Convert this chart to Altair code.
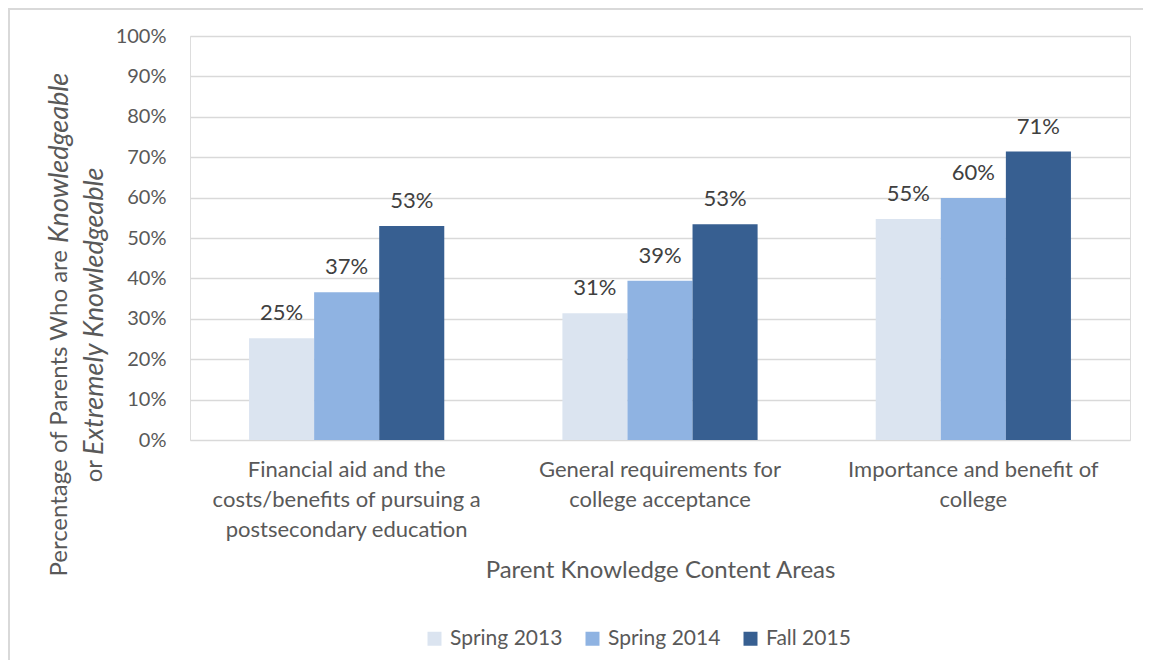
import altair as alt
import pandas as pd

categories = [
    "Financial aid and the|costs/benefits of pursuing a|postsecondary education",
    "General requirements for|college acceptance",
    "Importance and benefit of|college",
]
series = ["Spring 2013", "Spring 2014", "Fall 2015"]
values = {
    "Spring 2013": [0.252, 0.314, 0.547],
    "Spring 2014": [0.366, 0.394, 0.599],
    "Fall 2015": [0.530, 0.534, 0.714],
}
colors = ["#dbe4f0", "#8fb3e2", "#375f91"]

rows = []
for s in series:
    for c, v in zip(categories, values[s]):
        rows.append({"cat": c, "series": s, "value": v})
df = pd.DataFrame(rows)

W, H = 940, 404
FONT = "Lato"

x_enc = alt.X(
    "cat:N",
    sort=categories,
    scale=alt.Scale(paddingInner=0.377, paddingOuter=0.1885),
    axis=alt.Axis(
        title="Parent Knowledge Content Areas",
        labelExpr="split(datum.label, '|')",
        labelAngle=0,
        labelFontSize=22,
        labelLineHeight=30,
        labelPadding=19,
        labelLimit=0,
        labelColor="#595959",
        labelFont=FONT,
        titleFont=FONT,
        titleFontSize=24,
        titleFontWeight="normal",
        titleColor="#595959",
        titlePadding=18,
        ticks=False,
        domain=False,
        grid=False,
    ),
)
xo = alt.XOffset("series:N", sort=series)
y_enc = alt.Y(
    "value:Q",
    scale=alt.Scale(domain=[0, 1]),
    axis=alt.Axis(
        title=None,
        format=".0%",
        values=[i / 10 for i in range(11)],
        labelFontSize=20,
        labelColor="#595959",
        labelFont=FONT,
        labelPadding=24,
        ticks=False,
        domain=False,
        gridColor="#d9d9d9",
        gridWidth=1.5,
    ),
)

bars = alt.Chart(df).mark_bar().encode(
    x=x_enc,
    xOffset=xo,
    y=y_enc,
    color=alt.Color(
        "series:N",
        sort=series,
        scale=alt.Scale(domain=series, range=colors),
        legend=alt.Legend(
            title=None,
            orient="none",
            direction="horizontal",
            legendX=234,
            legendY=592,
            symbolType="square",
            symbolSize=196,
            symbolStrokeWidth=0,
            labelFontSize=21,
            labelFont=FONT,
            labelColor="#595959",
            labelOffset=5,
            columnPadding=19,
        ),
    ),
)

labels = alt.Chart(df).mark_text(
    baseline="bottom", dy=-13, fontSize=22, font=FONT, color="#404040"
).encode(
    x=alt.X("cat:N", sort=categories),
    xOffset=xo,
    y="value:Q",
    text=alt.Text("value:Q", format=".0%"),
)

ytitle_df = pd.DataFrame(
    [
        {"t": "Percentage of Parents Who are", "px": -130, "py": 214, "style": "normal", "al": "right", "fs": 24},
        {"t": "Knowledgeable", "px": -130, "py": 207, "style": "italic", "al": "left", "fs": 27},
        {"t": "or", "px": -95, "py": 424, "style": "normal", "al": "right", "fs": 24},
        {"t": "Extremely Knowledgeable", "px": -95, "py": 419, "style": "italic", "al": "left", "fs": 27},
    ]
)

def ytitle_part(i):
    r = ytitle_df.iloc[i]
    return alt.Chart(ytitle_df.iloc[[i]]).mark_text(
        angle=270,
        align=r["al"],
        baseline="middle",
        fontSize=float(r["fs"]),
        font=FONT,
        fontStyle=r["style"],
        color="#595959",
    ).encode(x=alt.value(float(r["px"])), y=alt.value(float(r["py"])), text="t:N")

frame = alt.Chart(pd.DataFrame({"a": [0]})).mark_rect(
    fill=None, stroke="#d9d9d9", strokeWidth=2
).encode(
    x=alt.value(-181), y=alt.value(-27), x2=alt.value(W + 200), y2=alt.value(H + 400)
)

chart = alt.layer(
    frame, bars, labels, *[ytitle_part(i) for i in range(len(ytitle_df))]
).properties(
    width=W,
    height=H,
    autosize=alt.AutoSizeParams(type="none"),
    padding={"left": 182, "top": 28, "right": 13, "bottom": 220},
).configure_view(stroke=None).configure(background="white")

chart.save("out.html", embed_options={"renderer": "svg", "actions": False})
